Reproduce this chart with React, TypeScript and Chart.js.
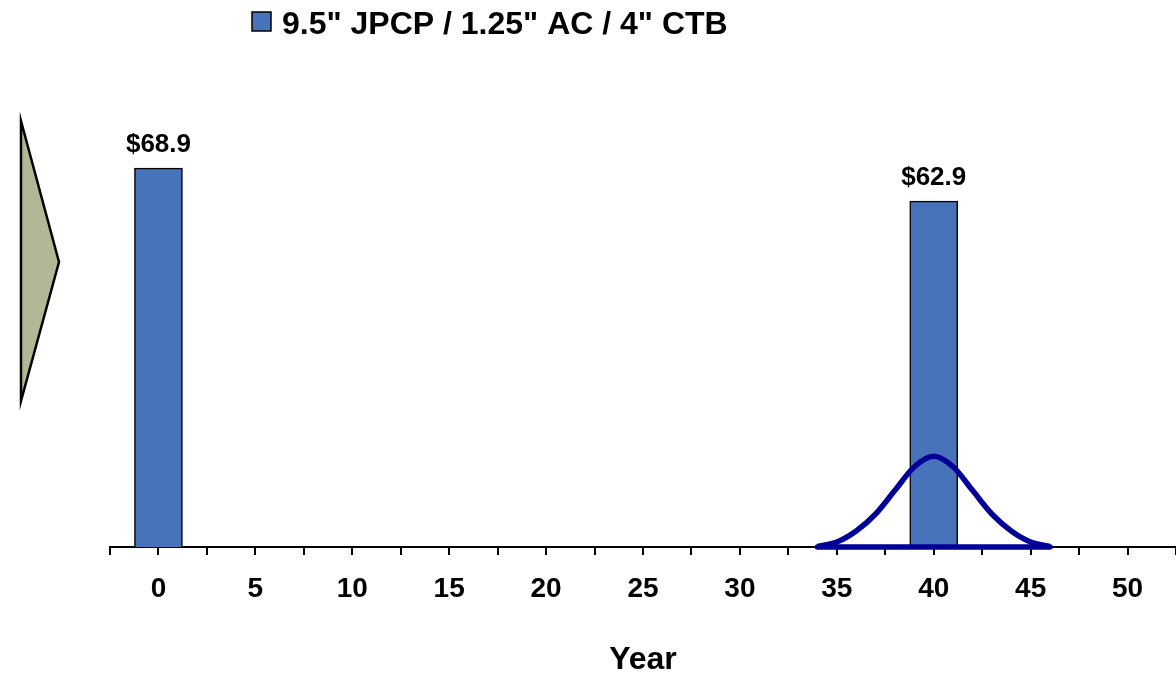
import React, { useEffect, useRef } from "react";
import { Chart, registerables } from "chart.js";

Chart.register(...registerables);

// Cost events (year, $ value)
const barYears = [0, 40];
const barCosts = [68.9, 62.9];
const seriesLabel = '9.5" JPCP / 1.25" AC / 4" CTB';

// Timing-uncertainty curve around the rehabilitation year
const curveYears = [34, 35, 36, 37, 38, 39, 40, 41, 42, 43, 44, 45, 46];
const curveValues = [0.1, 0.9, 2.9, 6.0, 10.3, 14.6, 16.5, 14.6, 10.3, 6.0, 2.9, 0.9, 0.1];
const baselineYears = [34, 46];

const axisMin = -2.5;
const axisMax = 52.5;
const tickStep = 2.5;

const FONT = "'Liberation Sans', Arial, Helvetica, sans-serif";
const BAR_COLOR = "#4773BA";
const LINE_COLOR = "#000099";

const decorPlugin = {
  id: "decor",
  beforeDraw(chart: any) {
    const ctx = chart.ctx;
    // pointer shape on the left edge
    ctx.save();
    ctx.beginPath();
    ctx.moveTo(21, 121);
    ctx.lineTo(59, 262);
    ctx.lineTo(21, 401);
    ctx.closePath();
    ctx.fillStyle = "#B0B896";
    ctx.fill();
    ctx.lineWidth = 2.5;
    ctx.strokeStyle = "#000";
    ctx.lineJoin = "miter";
    ctx.stroke();
    ctx.restore();

    // legend
    ctx.save();
    ctx.fillStyle = BAR_COLOR;
    ctx.fillRect(252, 12, 19, 19);
    ctx.lineWidth = 1.5;
    ctx.strokeStyle = "#000";
    ctx.strokeRect(252, 12, 19, 19);
    ctx.fillStyle = "#000";
    ctx.font = `bold 32px ${FONT}`;
    ctx.textBaseline = "alphabetic";
    ctx.textAlign = "left";
    ctx.fillText(seriesLabel, 282, 34);
    ctx.restore();
  },
  afterDatasetsDraw(chart: any) {
    const ctx = chart.ctx;
    const meta = chart.getDatasetMeta(2);
    ctx.save();
    ctx.fillStyle = "#000";
    ctx.font = `bold 26px ${FONT}`;
    ctx.textAlign = "center";
    ctx.textBaseline = "alphabetic";
    meta.data.forEach((el: any, i: number) => {
      ctx.fillText("$" + barCosts[i].toFixed(1), el.x, el.y - 16);
    });
    ctx.restore();
  },
};

export default function App() {
  const canvasRef = useRef<HTMLCanvasElement | null>(null);

  useEffect(() => {
    const canvas = canvasRef.current;
    if (!canvas) return;
    const chart = new Chart(canvas, {
      type: "bar",
      data: {
        datasets: [
          {
            type: "line",
            label: "curve",
            data: curveYears.map((x, i) => ({ x, y: curveValues[i] })),
            borderColor: LINE_COLOR,
            borderWidth: 5.5,
            pointRadius: 0,
            cubicInterpolationMode: "monotone",
            fill: false,
            clip: false,
            order: 1,
          } as any,
          {
            type: "line",
            label: "base",
            data: baselineYears.map((x) => ({ x, y: 0 })),
            borderColor: LINE_COLOR,
            borderWidth: 5.5,
            borderCapStyle: "round",
            pointRadius: 0,
            fill: false,
            clip: false,
            order: 1,
          } as any,
          {
            type: "bar",
            label: seriesLabel,
            data: barYears.map((x, i) => ({ x, y: barCosts[i] })),
            backgroundColor: BAR_COLOR,
            borderColor: "#000",
            borderWidth: 1.5,
            borderSkipped: "bottom",
            barThickness: 48,
            order: 2,
          } as any,
        ],
      },
      options: {
        responsive: false,
        animation: false,
        layout: { padding: { left: 110, right: 0, top: 107, bottom: 0 } },
        plugins: {
          legend: { display: false },
          tooltip: { enabled: false },
        },
        scales: {
          x: {
            type: "linear",
            min: axisMin,
            max: axisMax,
            offset: false,
            afterFit: (scale: any) => {
              scale.height = 129;
              scale.paddingLeft = 0;
              scale.paddingRight = 0;
            },
            grid: {
              offset: false,
              drawOnChartArea: false,
              drawTicks: true,
              tickLength: 8,
              color: "#000",
              lineWidth: 2,
            },
            border: { display: true, color: "#000", width: 2 },
            ticks: {
              stepSize: tickStep,
              autoSkip: false,
              maxRotation: 0,
              padding: 17,
              color: "#000",
              font: { family: FONT, size: 28, weight: "bold" },
              callback: (v: any) => (Number(v) % 5 === 0 ? String(v) : ""),
            },
            title: {
              display: true,
              text: "Year",
              color: "#000",
              padding: 0,
              font: { family: FONT, size: 32, weight: "bold", lineHeight: 1 },
            },
          },
          y: {
            display: false,
            min: 0,
            max: 80,
          },
        },
      },
      plugins: [decorPlugin],
    });
    return () => chart.destroy();
  }, []);

  return (
    <div style={{ position: "fixed", left: 0, top: 0, width: 1176, height: 676, background: "#fff" }}>
      <canvas ref={canvasRef} width={1176} height={676} style={{ display: "block" }} />
    </div>
  );
}
